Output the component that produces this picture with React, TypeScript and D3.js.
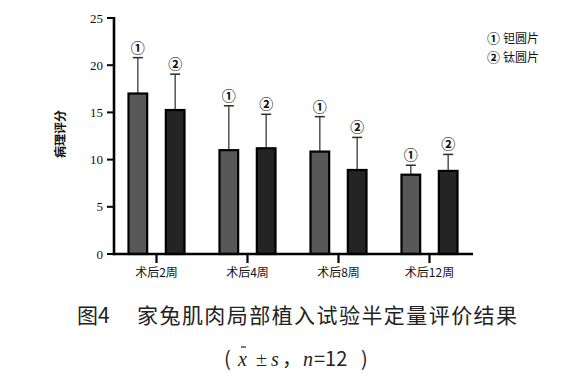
import React from "react";
import * as d3 from "d3";

const categories = ["术后2周", "术后4周", "术后8周", "术后12周"];
const seriesNames = ["钽圆片", "钛圆片"];
const seriesMarks = ["①", "②"];
const tantalum = [17.0, 11.0, 10.85, 8.4];
const tantalumSD = [3.8, 4.7, 3.7, 1.0];
const titanium = [15.25, 11.2, 8.9, 8.8];
const titaniumSD = [3.8, 3.6, 3.45, 1.75];
const yTicks = [0, 5, 10, 15, 20, 25];

const W = 580, H = 380;
const fills = ["#585858", "#242424"];

export default function App() {
  const y = d3.scaleLinear().domain([0, 25]).range([254, 18]);
  const x0 = d3.scaleBand<string>().domain(categories).range([111, 475]);
  const x1 = d3.scaleBand<string>().domain(["0", "1"]).range([-28, 28]).paddingInner(0.5).paddingOuter(0);
  const series = [
    { vals: tantalum, sd: tantalumSD },
    { vals: titanium, sd: titaniumSD },
  ];
  const serif = "'Liberation Serif', 'DejaVu Serif', serif";
  const cjk = "'Noto Sans CJK SC', 'Noto Sans', sans-serif";
  const markFont = "'DejaVu Serif', 'Noto Sans CJK SC', serif";
  return (
    <svg width={W} height={H} style={{ position: "absolute", left: 0, top: 0, background: "#fff" }}>
      {/* bars */}
      {categories.map((c, i) => {
        const cx = x0(c)! + x0.bandwidth() / 2;
        return (
          <g key={c}>
            {series.map((s, j) => {
              const bx = cx + x1(String(j))!;
              const bw = x1.bandwidth();
              const top = y(s.vals[i]);
              const et = y(s.vals[i] + s.sd[i]);
              const mx = bx + bw / 2;
              return (
                <g key={j}>
                  <line x1={mx} x2={mx} y1={top} y2={et} stroke="#3a3a3a" strokeWidth={1.3} />
                  <line x1={mx - 5} x2={mx + 5} y1={et} y2={et} stroke="#2a2a2a" strokeWidth={1.5} />
                  <rect x={bx} y={top} width={bw} height={y(0) - top} fill={fills[j]} stroke="#000" strokeWidth={2.2} />
                  <text x={mx} y={et - 5} textAnchor="middle" fontSize={14} fontWeight="bold" fontFamily={markFont} fill="#111">{seriesMarks[j]}</text>
                </g>
              );
            })}
            <line x1={cx} x2={cx} y1={254} y2={263} stroke="#000" strokeWidth={2.2} />
            <text x={cx} y={277} textAnchor="middle" fontSize={12} fontFamily={cjk} fill="#111">{c}</text>
          </g>
        );
      })}
      {/* axes */}
      <line x1={114} x2={114} y1={17} y2={255.2} stroke="#000" strokeWidth={2.6} />
      <line x1={112.7} x2={473} y1={254} y2={254} stroke="#000" strokeWidth={2.4} />
      {yTicks.map((t) => (
        <g key={t}>
          <line x1={107} x2={114} y1={y(t)} y2={y(t)} stroke="#000" strokeWidth={2} />
          <text x={103} y={y(t) + 4.5} textAnchor="end" fontSize={13} fontFamily={serif} fill="#111">{t}</text>
        </g>
      ))}
      <text transform="translate(65,134) rotate(-90)" textAnchor="middle" fontSize={12} fontWeight="bold" fontFamily={cjk} fill="#111">病理评分</text>
      {/* legend */}
      {seriesNames.map((n, j) => (
        <g key={n}>
          <text x={487} y={43 + j * 19} fontSize={13} fontWeight="bold" fontFamily={markFont} fill="#111">{seriesMarks[j]}</text>
          <text x={503} y={43 + j * 19} fontSize={12} fontFamily={cjk} fill="#111">{n}</text>
        </g>
      ))}
      {/* caption */}
      <text x={77} y={323} fontSize={21} fontFamily={cjk} fill="#222">图4</text>
      <text x={137} y={323} fontSize={21} fontFamily={cjk} fill="#222" textLength={380} lengthAdjust="spacing">家兔肌肉局部植入试验半定量评价结果</text>
      <g fontSize={20} fill="#222">
        <text x={224} y={366} fontFamily={cjk}>(</text>
        <text x={238} y={366} fontFamily={serif} fontStyle="italic">x</text>
        <text x={255} y={365} fontFamily={cjk} fontSize={13}>±</text>
        <text x={271} y={366} fontFamily={serif} fontStyle="italic">s</text>
        <text x={282} y={366} fontFamily={cjk}>，</text>
        <text x={303} y={366} fontFamily={serif} fontStyle="italic">n</text>
        <text x={314} y={366} fontFamily={cjk}>=12</text>
        <text x={361} y={366} fontFamily={cjk}>)</text>
      </g>
      <line x1={241} x2={246} y1={347} y2={347} stroke="#222" strokeWidth={1.2} />
    </svg>
  );
}
